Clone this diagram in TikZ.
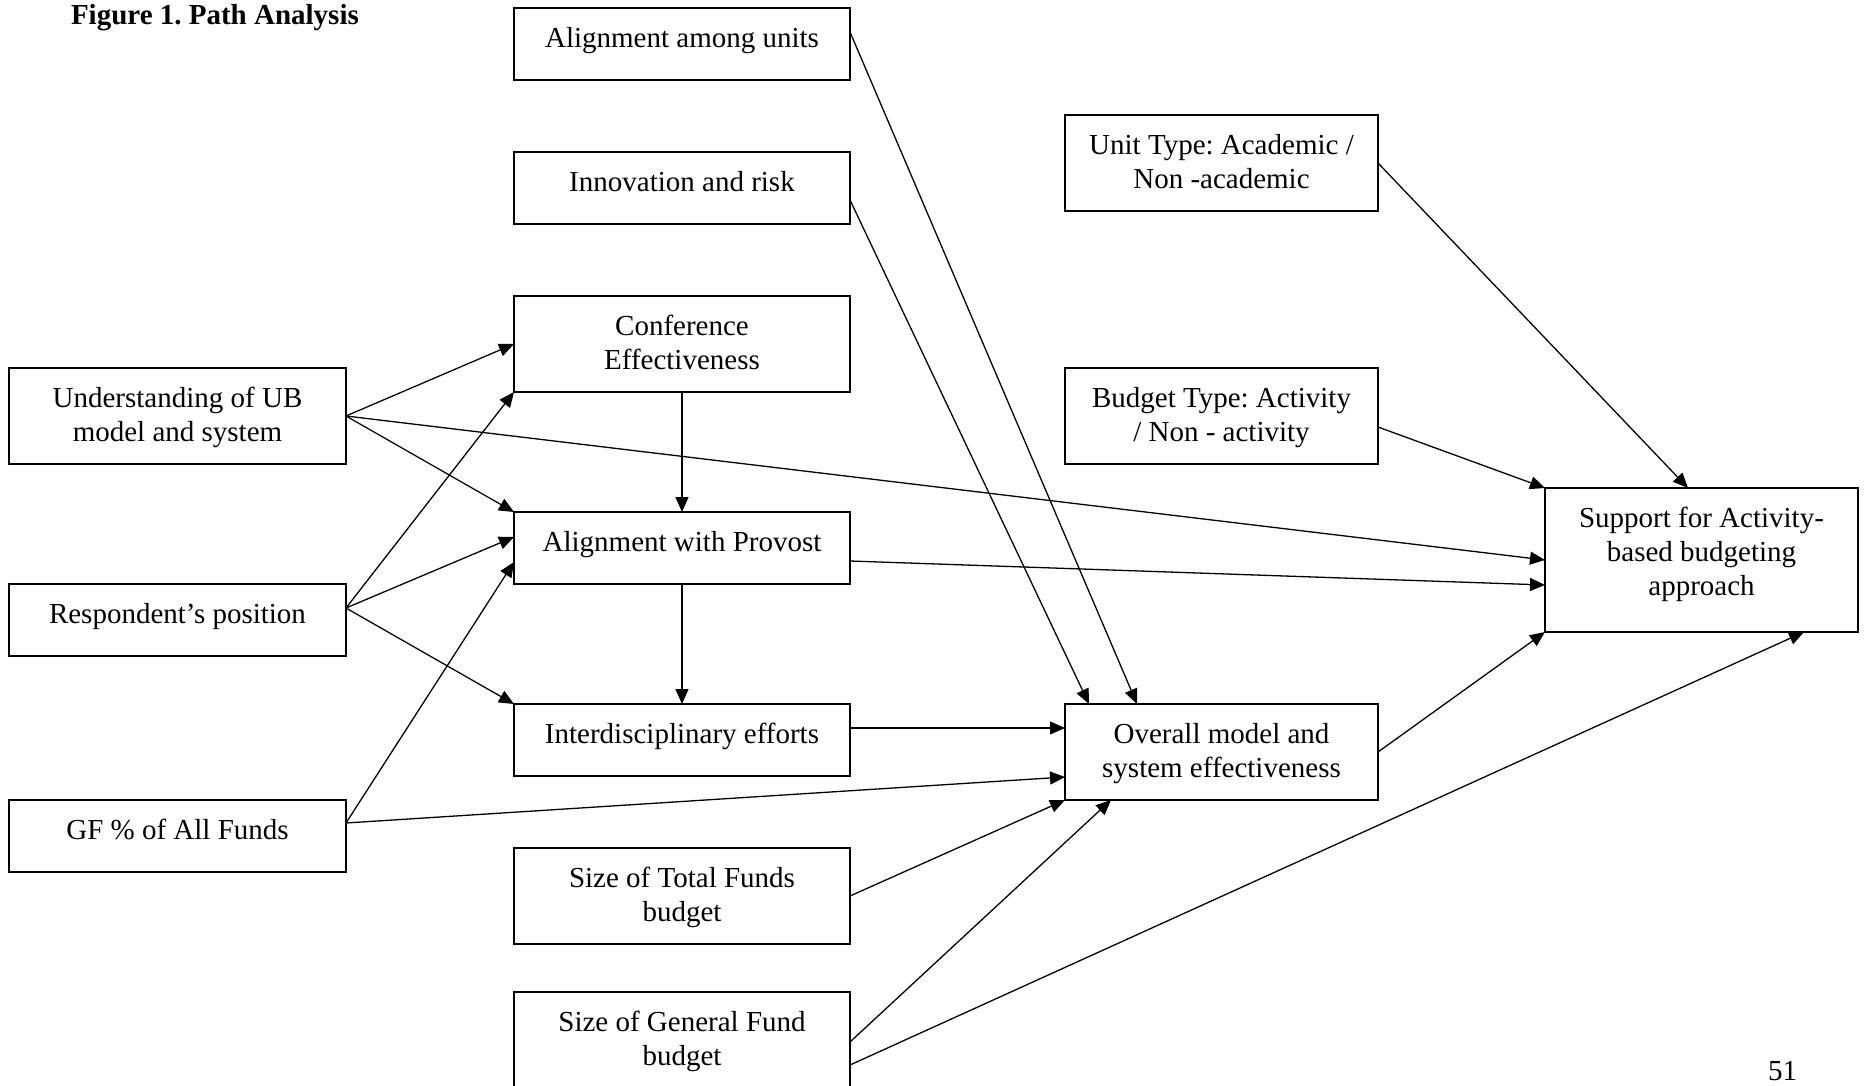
\documentclass[tikz,border=0pt]{standalone}
\usepackage{fontspec}
\setmainfont{Liberation Serif}
\usetikzlibrary{arrows.meta}
\frenchspacing
\tikzset{
  bx/.style={draw, line width=0.9pt, inner sep=0pt, outer sep=0pt, fill=white},
  tx/.style={inner sep=0pt, outer sep=0pt, align=center, font=\fontsize{14.5}{17}\selectfont},
  arr/.style={line width=0.65pt, -{Triangle[length=7.5pt,width=6.5pt]}},
}
\newcommand{\pbox}[6]{%
  \node[bx, minimum width={(#4-#2)*0.5pt}, minimum height={(#5-#3)*0.5pt}] (#1) at ({(#2+#4)/2},{(#3+#5)/2}) {};
  \node[tx, anchor=north] (#1-t) at ([yshift=-7.8pt]#1.north) {\strut #6};
}
\begin{document}
\begin{tikzpicture}[x=0.5pt, y=-0.5pt]
\useasboundingbox (0,0) rectangle (1865,1086);
\fill[white] (0,0) rectangle (1865,1086);
\node[tx, anchor=base west, font=\fontsize{14.5}{17}\selectfont\bfseries] (title) at (71,24.5) {Figure 1. Path Analysis};
\node[tx, anchor=base west] (pagenum) at (1768,1080) {51};
% left column
\pbox{UB}{9}{368}{346}{464}{Understanding of UB\\model and system}
\pbox{RP}{9}{584}{346}{656}{Respondent’s position}
\pbox{GF}{9}{800}{346}{872}{GF \% of All Funds}
% middle column
\pbox{AU}{514}{8}{850}{80}{Alignment among units}
\pbox{IR}{514}{152}{850}{224}{Innovation and risk}
\pbox{CE}{514}{296}{850}{392}{Conference\\Effectiveness}
\pbox{AP}{514}{512}{850}{584}{Alignment with Provost}
\pbox{IE}{514}{704}{850}{776}{Interdisciplinary efforts}
\pbox{STF}{514}{848}{850}{944}{Size of Total Funds\\budget}
\pbox{SGF}{514}{992}{850}{1092}{Size of General Fund\\budget}
% right columns
\pbox{UT}{1065}{115}{1378}{211}{Unit Type: Academic /\\Non -academic}
\pbox{BT}{1065}{368}{1378}{464}{Budget Type: Activity\\/ Non - activity}
\pbox{OM}{1065}{704}{1378}{800}{Overall model and\\system effectiveness}
\pbox{SA}{1545}{488}{1858}{632}{Support for Activity-\\based budgeting\\approach}
% connectors
\draw[arr] (UB.east) -- (CE.west);
\draw[arr] (UB.east) -- (AP.north west);
\draw[arr] (UB.east) -- (SA.west);
\draw[arr] ([yshift=6pt]RP.east) -- (CE.south west);
\draw[arr] ([yshift=6pt]RP.east) -- ([yshift=5.5pt]AP.west);
\draw[arr] ([yshift=6pt]RP.east) -- (IE.north west);
\draw[arr] ([yshift=6.5pt]GF.east) -- ([yshift=-7pt]AP.west);
\draw[arr] ([yshift=6.5pt]GF.east) -- ([yshift=-12.5pt]OM.west);
\draw[arr] (CE.south) -- (AP.north);
\draw[arr] (AP.south) -- (IE.north);
\draw[arr] ([yshift=-6.5pt]AP.east) -- ([yshift=-12.5pt]SA.west);
\draw[arr] ([yshift=6pt]IE.east) -- ([yshift=12pt]OM.west);
\draw[arr] ([yshift=6pt]AU.east) -- ([xshift=-42.25pt]OM.north);
\draw[arr] ([yshift=-6pt]IR.east) -- ([xshift=-66.25pt]OM.north);
\draw[arr] (UT.east) -- ([xshift=-6.75pt]SA.north);
\draw[arr] ([yshift=-5.5pt]BT.east) -- (SA.north west);
\draw[arr] (OM.east) -- (SA.south west);
\draw[arr] (STF.east) -- (OM.south west);
\draw[arr] (SGF.east) -- ([xshift=-55.25pt]OM.south);
\draw[arr] ([yshift=-11.5pt]SGF.east) -- ([xshift=51.25pt]SA.south);
\end{tikzpicture}
\end{document}
